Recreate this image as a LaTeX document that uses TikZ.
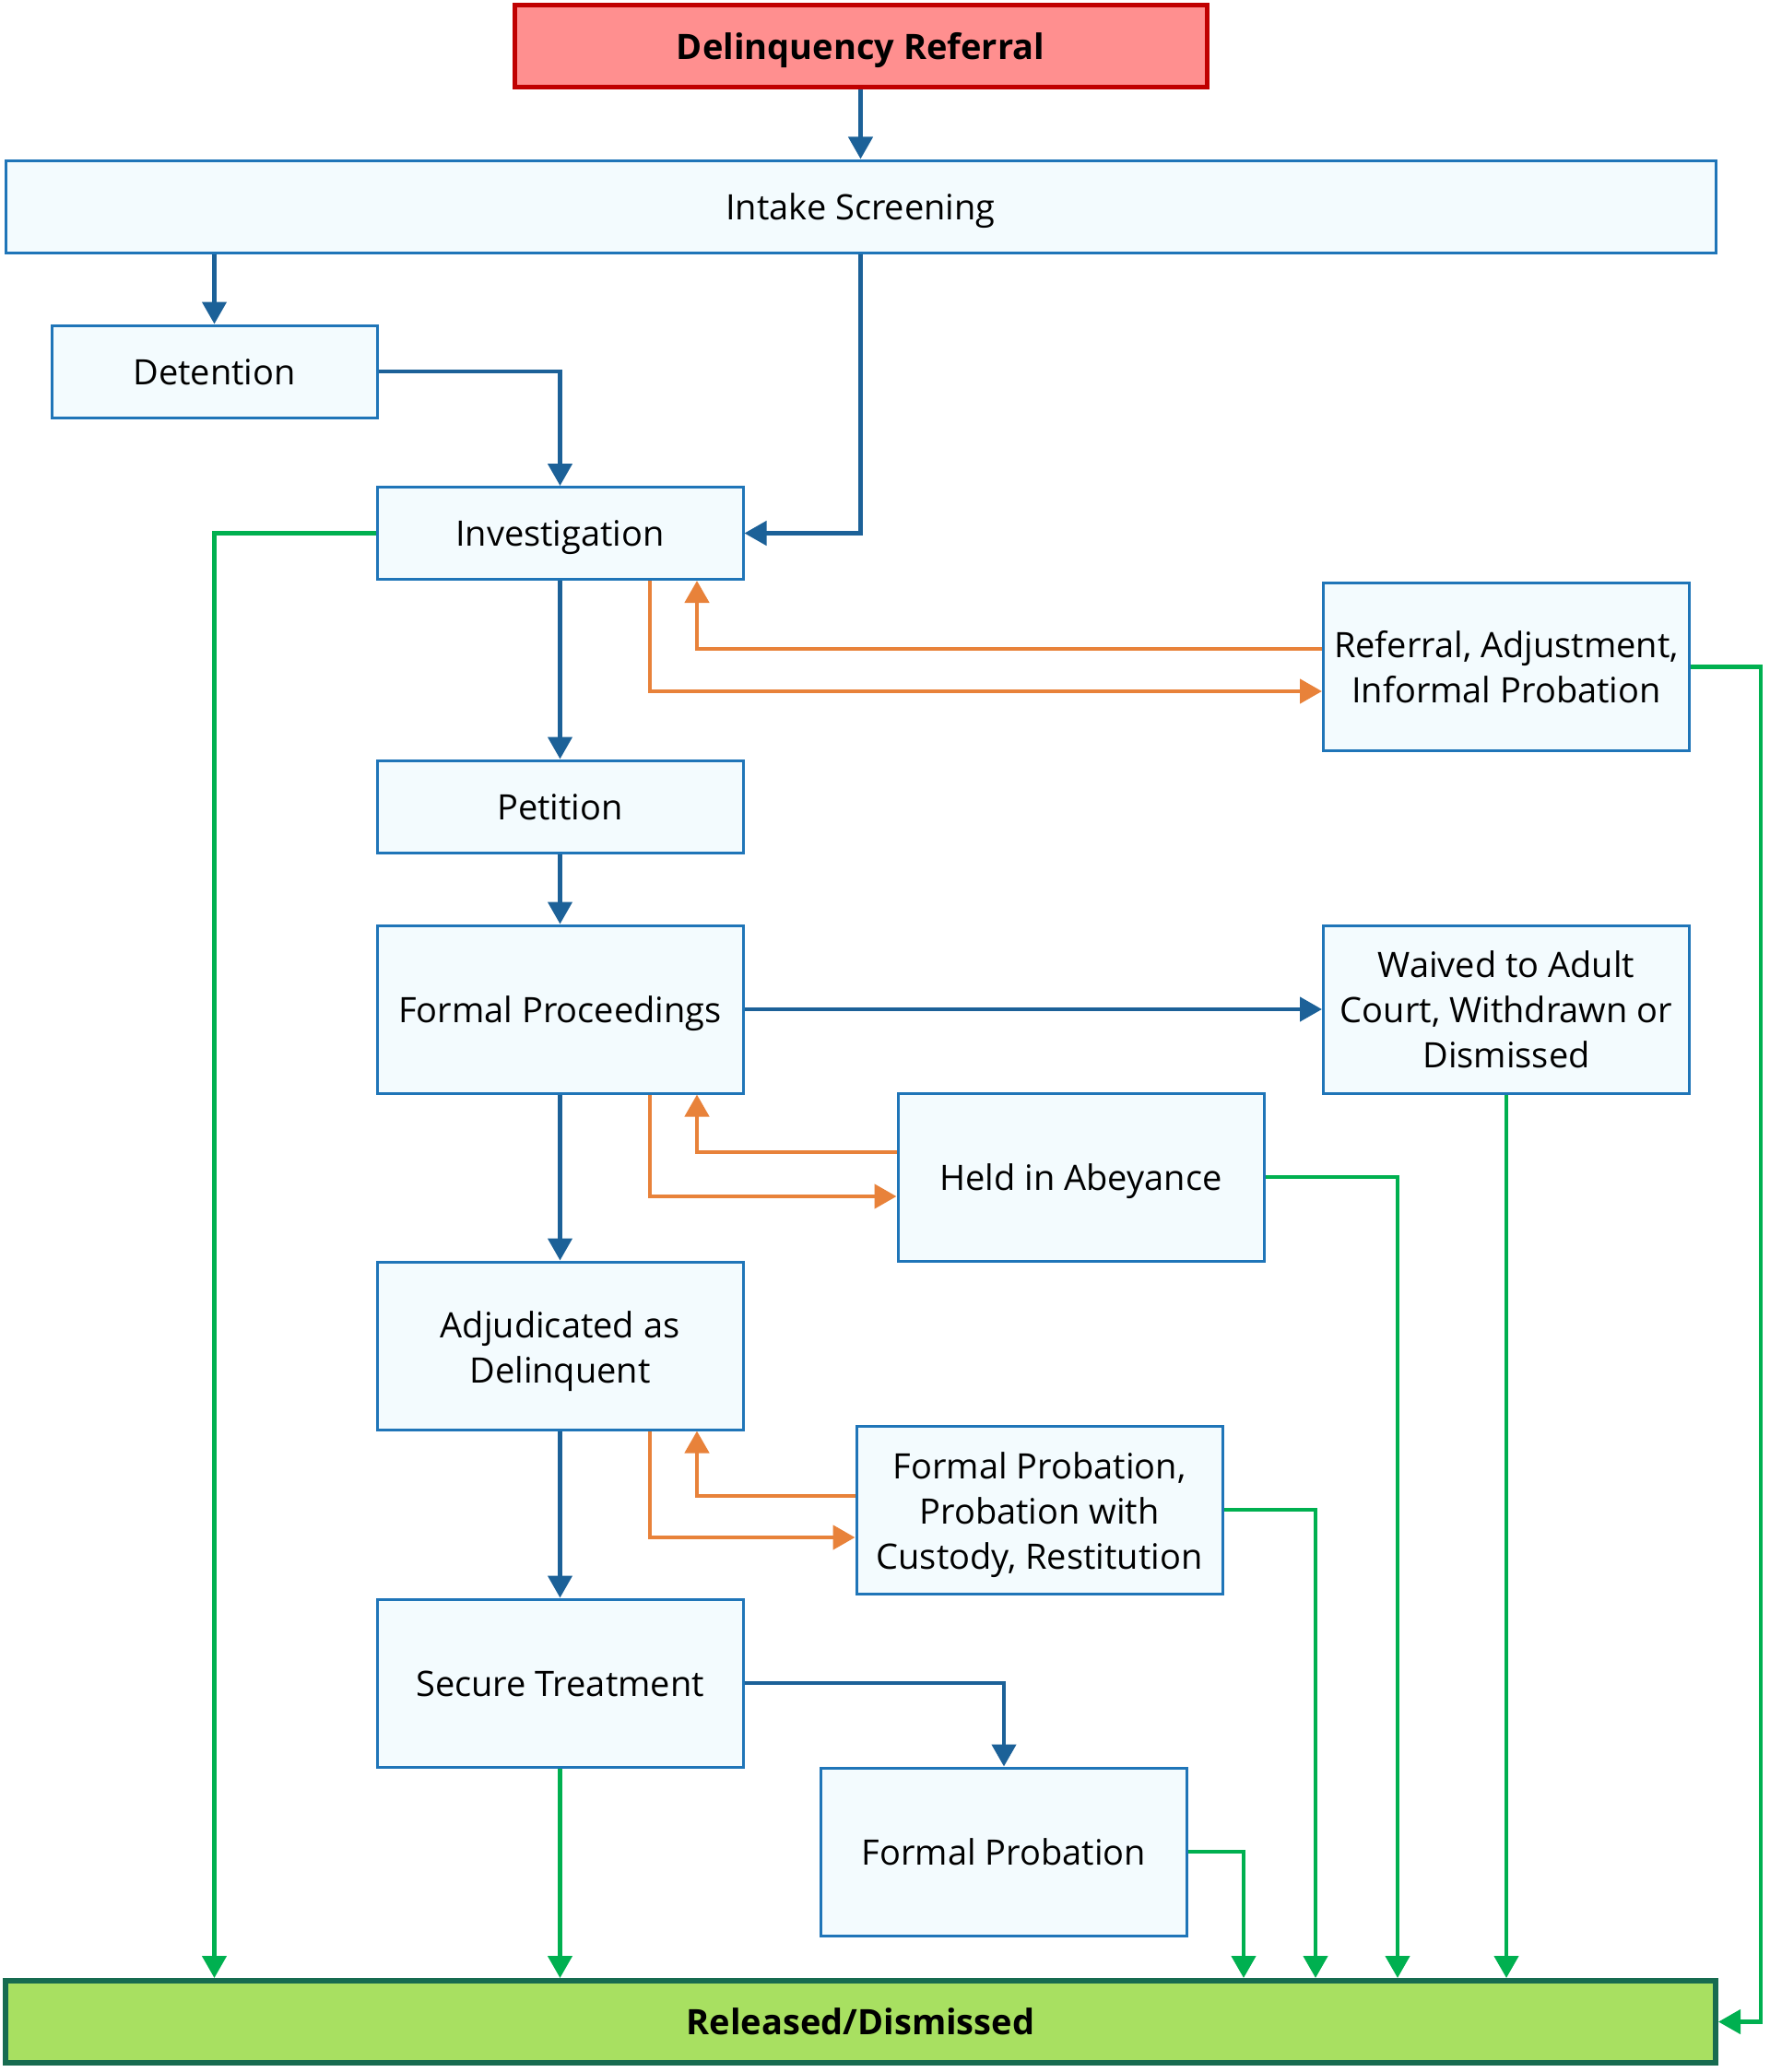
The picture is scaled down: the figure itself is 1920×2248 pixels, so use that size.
\documentclass[tikz,border=0pt]{standalone}
\usepackage{fontspec}
\setmainfont{Open Sans}
\usetikzlibrary{arrows.meta}
\definecolor{boxfill}{HTML}{F3FBFE}
\definecolor{boxline}{HTML}{1F75B8}
\definecolor{flowblue}{HTML}{1C6198}
\definecolor{floworange}{HTML}{E8823A}
\definecolor{flowgreen}{HTML}{00B050}
\definecolor{redfill}{HTML}{FF8F8F}
\definecolor{redline}{HTML}{C00000}
\definecolor{grfill}{HTML}{A8E061}
\definecolor{grline}{HTML}{176B50}
\begin{document}
\begin{tikzpicture}[x=0.5pt,y=-0.5pt,
  box/.style={draw=boxline, fill=boxfill, line width=1.5pt, inner sep=0pt, align=center,
    font=\fontsize{19}{24.5}\selectfont},
  oneline/.style={text height=14pt, text depth=0pt},
  small/.style={box, oneline, minimum width=198.5pt, minimum height=50pt},
  tall/.style={box, minimum width=198.5pt, minimum height=91pt},
  bluearrow/.style={draw=flowblue, line width=2.2pt, -{Triangle[length=12pt,width=13pt]}},
  orangearrow/.style={draw=floworange, line width=2.3pt, -{Triangle[length=12pt,width=13pt]}},
  greenarrow/.style={draw=flowgreen, line width=2.2pt, -{Triangle[length=12pt,width=13pt]}}]
\useasboundingbox (0,0) rectangle (1920,2248);
\fill[white] (0,0) rectangle (1920,2248);

\node[box, oneline, draw=redline, fill=redfill, line width=2.5pt, minimum width=375.5pt, minimum height=44.5pt,
  font=\fontsize{19}{24.5}\selectfont\bfseries] (DR) at (933.5,50.5) {Delinquency Referral};
\node[box, oneline, minimum width=927.5pt, minimum height=50pt] (Int) at (933.5,224) {Intake Screening};
\node[box, oneline, minimum width=176.5pt, minimum height=50pt] (Det) at (232.5,403) {Detention};
\node[small] (Inv) at (607.5,578.5) {Investigation};
\node[tall] (Ref) at (1634,723.5) {Referral, Adjustment,\\Informal Probation};
\node[small] (Pet) at (607.5,875) {Petition};
\node[tall, oneline] (FP) at (607.5,1095) {Formal Proceedings};
\node[tall] (Wai) at (1634,1095) {Waived to Adult\\Court, Withdrawn or\\Dismissed};
\node[tall, oneline] (Held) at (1172.5,1277) {Held in Abeyance};
\node[tall, text height=40.1pt, text depth=0pt] (Adj) at (607.5,1460) {Adjudicated as\\Delinquent};
\node[tall, text height=64.6pt, text depth=0pt] (FPro) at (1127.5,1638) {Formal Probation,\\Probation with\\Custody, Restitution};
\node[tall, oneline] (Sec) at (607.5,1826) {Secure Treatment};
\node[tall, oneline] (FPb) at (1089,2009) {Formal Probation};
\node[box, oneline, draw=grline, fill=grfill, line width=3pt, minimum width=927.5pt, minimum height=44.5pt,
  font=\fontsize{19}{24.5}\selectfont\bfseries] (Rel) at (933.5,2193.5) {Released/Dismissed};

\coordinate (gxRef) at (1910,0);
\coordinate (gxHeld) at (1516,0);
\coordinate (gxFPro) at (1427,0);
\coordinate (gxFPb) at (1349,0);

% blue flow
\draw[bluearrow] (DR.south) -- (Int.north);
\draw[bluearrow] (Int.south -| Det.north) -- (Det.north);
\draw[bluearrow] (Det.east) -| (Inv.north);
\draw[bluearrow] (Int.south) |- (Inv.east);
\draw[bluearrow] (Inv.south) -- (Pet.north);
\draw[bluearrow] (Pet.south) -- (FP.north);
\draw[bluearrow] (FP.east) -- (Wai.west);
\draw[bluearrow] (FP.south) -- (Adj.north);
\draw[bluearrow] (Adj.south) -- (Sec.north);
\draw[bluearrow] (Sec.east) -| (FPb.north);

% orange loops
\draw[orangearrow] ([xshift=48.75pt]Inv.south) |- ([yshift=-13.25pt]Ref.west);
\draw[orangearrow] ([yshift=9.75pt]Ref.west) -| ([xshift=74.25pt]Inv.south);
\draw[orangearrow] ([xshift=48.75pt]FP.south) |- ([yshift=-10.5pt]Held.west);
\draw[orangearrow] ([yshift=13.5pt]Held.west) -| ([xshift=74.25pt]FP.south);
\draw[orangearrow] ([xshift=48.75pt]Adj.south) |- ([yshift=-15pt]FPro.west);
\draw[orangearrow] ([yshift=7.5pt]FPro.west) -| ([xshift=74.25pt]Adj.south);

% green to released
\draw[greenarrow] (Inv.west) -| (Det.south |- Rel.north);
\draw[greenarrow] (Sec.south) -- (Sec.south |- Rel.north);
\draw[greenarrow] (FPb.east) -| (gxFPb |- Rel.north);
\draw[greenarrow] (FPro.east) -| (gxFPro |- Rel.north);
\draw[greenarrow] (Held.east) -| (gxHeld |- Rel.north);
\draw[greenarrow] (Wai.south) -- (Wai.south |- Rel.north);
\draw[greenarrow] (Ref.east) -| (gxRef |- Rel.east) -- (Rel.east);
\end{tikzpicture}
\end{document}
